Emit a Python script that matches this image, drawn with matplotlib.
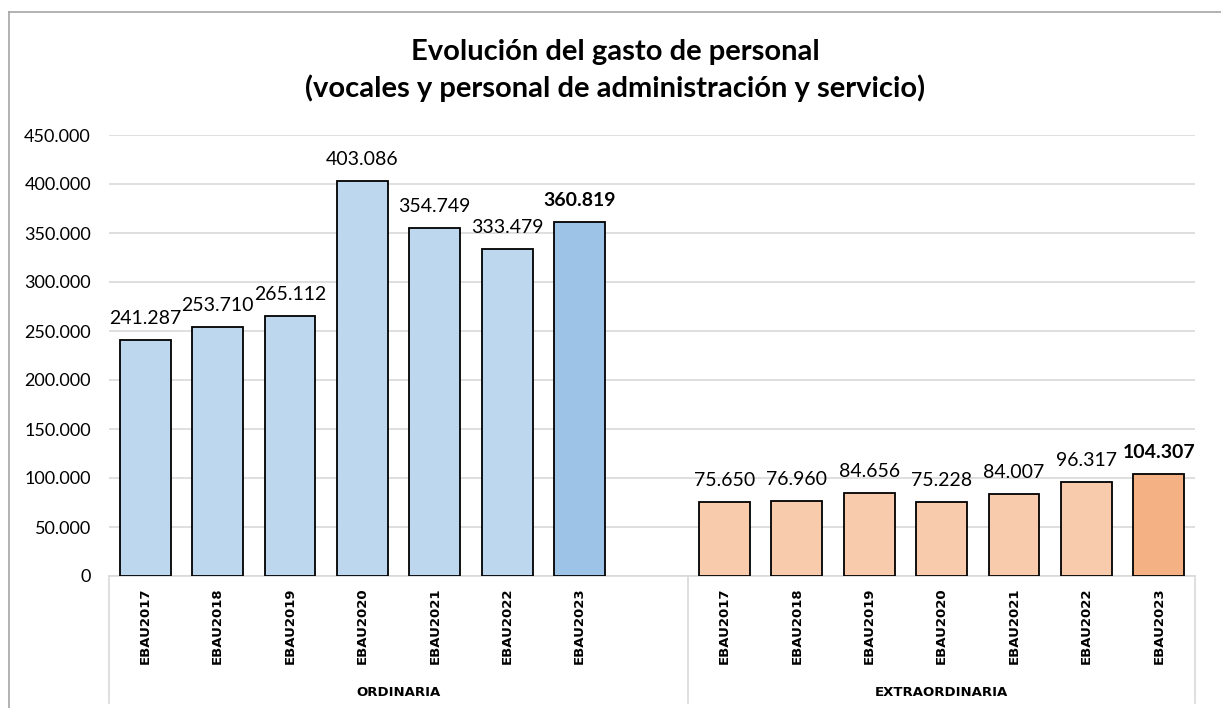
import matplotlib.pyplot as plt
from matplotlib.lines import Line2D
import matplotlib.transforms as mtransforms

plt.rcParams['font.family'] = ['Lato', 'DejaVu Sans']

# data
years = ["EBAU2017", "EBAU2018", "EBAU2019", "EBAU2020", "EBAU2021", "EBAU2022", "EBAU2023"]
ordinaria = [241287, 253710, 265112, 403086, 354749, 333479, 360819]
extraordinaria = [75650, 76960, 84656, 75228, 84007, 96317, 104307]
groups = ["ORDINARIA", "EXTRAORDINARIA"]
yticks = [0, 50000, 100000, 150000, 200000, 250000, 300000, 350000, 400000, 450000]
title1 = "Evolución del gasto de personal"
title2 = "(vocales y personal de administración y servicio)"


def fmt(v):
    return "{:,}".format(v).replace(",", ".")


fig = plt.figure(figsize=(12.21, 7.08), dpi=100)
ax = fig.add_axes([109 / 1221, 132 / 708, 1086 / 1221, 441 / 708])

# outer chart border (top and left visible)
fig.add_artist(Line2D([9 / 1221, 9 / 1221], [0, 1 - 12 / 708], transform=fig.transFigure,
                      color='#A6A6A6', lw=1.2))
fig.add_artist(Line2D([9 / 1221, 1], [1 - 12 / 708, 1 - 12 / 708], transform=fig.transFigure,
                      color='#A6A6A6', lw=1.2))

# positions: 8 slots on the left (last empty), 7 on the right
x_ord = list(range(len(ordinaria)))
x_ext = [8 + i for i in range(len(extraordinaria))]

c_ord = ['#BDD7EE'] * 6 + ['#9DC3E6']
c_ext = ['#F8CBAD'] * 6 + ['#F4B183']

ax.bar(x_ord, ordinaria, width=0.7, color=c_ord, edgecolor='black', linewidth=1.3, zorder=3)
ax.bar(x_ext, extraordinaria, width=0.7, color=c_ext, edgecolor='black', linewidth=1.3, zorder=3)

for xs, vals in ((x_ord, ordinaria), (x_ext, extraordinaria)):
    for i, (x, v) in enumerate(zip(xs, vals)):
        bold = i == len(vals) - 1
        ax.annotate(fmt(v), (x, v), xytext=(0, 15.5), textcoords='offset points',
                    ha='center', va='center', fontsize=14,
                    fontweight='bold' if bold else 'normal', color='black')

ax.set_xlim(-0.5, 14.5)
ax.set_ylim(0, 450000)
ax.set_yticks(yticks)
ax.set_yticklabels([fmt(v) for v in yticks], fontsize=13)
ax.yaxis.grid(True, color='#D9D9D9', lw=1.2, zorder=0)
ax.tick_params(axis='y', length=0, pad=13)
for s in ['top', 'right', 'left']:
    ax.spines[s].set_visible(False)
ax.spines['bottom'].set_color('#D9D9D9')
ax.spines['bottom'].set_linewidth(1.2)

ax.set_xticks(x_ord + x_ext)
ax.set_xticklabels(years + years, rotation=90, fontsize=9.5, fontweight='bold',
                   family=['DejaVu Sans'])
ax.tick_params(axis='x', length=0, pad=8)

# category separators below the axis
trans = mtransforms.blended_transform_factory(ax.transData, ax.transAxes)
for xv in (-0.5, 7.5, 14.5):
    ax.add_artist(Line2D([xv, xv], [0, -127 / 441], transform=trans, color='#D9D9D9',
                         lw=1.2, clip_on=False))

ax.text(3.5, -116 / 441, groups[0], transform=trans, ha='center', va='center',
        fontsize=9.5, fontweight='bold', family=['DejaVu Sans'])
ax.text(11, -116 / 441, groups[1], transform=trans, ha='center', va='center',
        fontsize=9.5, fontweight='bold', family=['DejaVu Sans'])

fig.text(615 / 1221, 1 - 60 / 708, title1, ha='center', va='baseline',
         fontsize=21, fontweight='bold')
fig.text(615 / 1221, 1 - 97 / 708, title2, ha='center', va='baseline',
         fontsize=21, fontweight='bold')

fig.savefig('out.png', dpi=100)
